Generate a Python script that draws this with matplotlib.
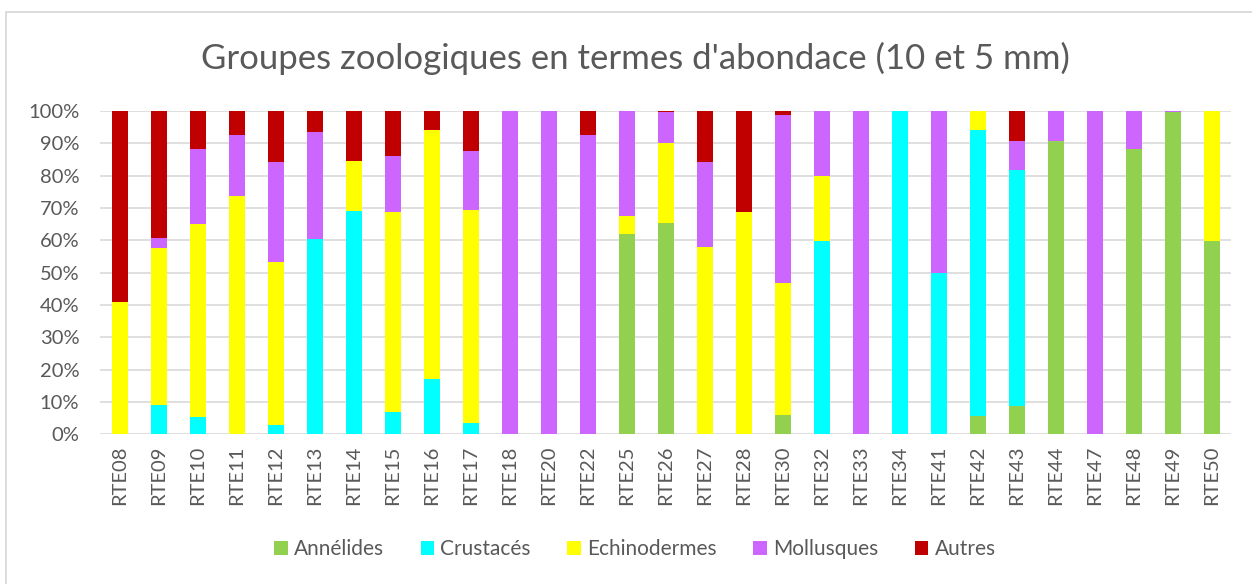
import matplotlib.pyplot as plt
from matplotlib.patches import Rectangle
from matplotlib.ticker import PercentFormatter
import numpy as np

plt.rcParams['font.family'] = ['Lato', 'DejaVu Sans']

stations = ["RTE08", "RTE09", "RTE10", "RTE11", "RTE12", "RTE13", "RTE14", "RTE15",
            "RTE16", "RTE17", "RTE18", "RTE20", "RTE22", "RTE25", "RTE26", "RTE27",
            "RTE28", "RTE30", "RTE32", "RTE33", "RTE34", "RTE41", "RTE42", "RTE43",
            "RTE44", "RTE47", "RTE48", "RTE49", "RTE50"]

# percentages
annelides = [0, 0, 0, 0, 0, 0, 0, 0, 0, 0, 0, 0, 0, 62.0, 65.5, 0, 0, 6.1, 0, 0,
             0, 0, 5.7, 8.8, 90.8, 0, 88.1, 99.6, 59.9]
crustaces = [0, 9.2, 5.3, 0, 2.9, 60.3, 69.1, 6.8, 17.1, 3.6, 0, 0, 0, 0, 0, 0, 0, 0,
             59.9, 0, 100, 50.0, 88.4, 73.0, 0, 0, 0, 0, 0]
echinodermes = [40.9, 48.3, 59.7, 73.8, 50.3, 0, 15.4, 61.9, 76.9, 65.9, 0, 0, 0, 5.5,
                24.6, 58.0, 68.7, 40.8, 19.9, 0, 0, 0, 5.9, 0, 0, 0, 0, 0, 40.1]
mollusques = [0, 3.2, 23.1, 18.7, 30.9, 33.3, 0, 17.4, 0, 18.2, 100, 100, 92.6, 32.5,
              9.5, 26.1, 0, 52.0, 20.2, 100, 0, 50.0, 0, 9.0, 9.2, 100, 11.9, 0.4, 0]
autres = [59.1, 39.3, 11.9, 7.5, 15.9, 6.4, 15.5, 13.9, 6.0, 12.3, 0, 0, 7.4, 0, 0.4,
          15.9, 31.3, 1.1, 0, 0, 0, 0, 0, 9.2, 0, 0, 0, 0, 0]

series = [("Annélides", annelides, "#92D050"),
          ("Crustacés", crustaces, "#00FFFF"),
          ("Echinodermes", echinodermes, "#FFFF00"),
          ("Mollusques", mollusques, "#CC66FF"),
          ("Autres", autres, "#C00000")]

text_col = "#595959"

fig = plt.figure(figsize=(12.52, 5.84), dpi=100)
ax = fig.add_axes([0.080, 0.2563, 0.9036, 0.5537])

x = np.arange(len(stations))
bottom = np.zeros(len(stations))
for name, vals, col in series:
    vals = np.array(vals, dtype=float)
    ax.bar(x, vals, 0.41, bottom=bottom, color=col, label=name, zorder=3)
    bottom += vals

ax.set_xlim(-0.5, len(stations) - 0.5)
ax.set_ylim(0, 100)
ax.set_yticks(np.arange(0, 101, 10))
ax.yaxis.set_major_formatter(PercentFormatter(decimals=0))
ax.set_xticks(x)
ax.set_xticklabels(stations, rotation=90)
ax.tick_params(axis="both", length=0, labelsize=14.5, labelcolor=text_col)
ax.tick_params(axis="y", pad=15)
ax.tick_params(axis="x", pad=8)
ax.grid(axis="y", color="#D9D9D9", linewidth=1.2, zorder=0)
for s in ax.spines.values():
    s.set_visible(False)

fig.text(0.5076, 0.9, "Groupes zoologiques en termes d'abondace (10 et 5 mm)",
         ha="center", va="center", fontsize=25, color=text_col)

ax.legend(loc="center", bbox_to_anchor=(0.4727, -0.3545), ncol=5, frameon=False,
          fontsize=15, labelcolor=text_col, handlelength=0.65, handleheight=0.65,
          handletextpad=0.3, columnspacing=1.75)

# chart frame (right edge falls outside the picture)
fig.patches.append(Rectangle((0.0048, -0.05), 1.1, 1.029, transform=fig.transFigure,
                             fill=False, edgecolor="#D9D9D9", linewidth=1.3))

fig.savefig("out.png", dpi=100)
